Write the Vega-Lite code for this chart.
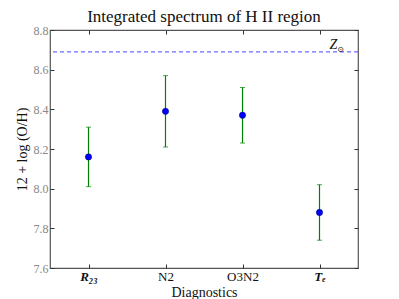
{
  "$schema": "https://vega.github.io/schema/vega-lite/v6.json",
  "width": 308,
  "height": 238,
  "autosize": "none",
  "padding": {"left": 50, "top": 30, "right": 41, "bottom": 31},
  "background": "white",
  "config": {
    "font": "Liberation Serif",
    "view": {"stroke": "#555555", "strokeWidth": 1.2},
    "axis": {"domain": false, "grid": false, "tickColor": "#333333", "labelFont": "Liberation Serif", "titleFont": "Liberation Serif", "titleFontWeight": "normal", "titleColor": "#111111"}
  },
  "title": {"text": "Integrated spectrum of H II region", "font": "Liberation Serif", "fontSize": 17, "fontWeight": "normal", "color": "#111111", "offset": -2},
  "datasets": {
    "points": [
      {"diag": "R23", "oh": 8.16, "lo": 8.01, "hi": 8.31},
      {"diag": "N2", "oh": 8.39, "lo": 8.21, "hi": 8.57},
      {"diag": "O3N2", "oh": 8.37, "lo": 8.23, "hi": 8.51},
      {"diag": "Te", "oh": 7.88, "lo": 7.74, "hi": 8.02}
    ],
    "solar": [{"diag": "Te", "oh": 8.69, "label": "Z", "sym": "⊙"}]
  },
  "resolve": {"axis": {"x": "independent", "y": "independent"}},
  "layer": [
    {
      "data": {"name": "solar"},
      "mark": {"type": "rule", "color": "#6b6bff", "strokeDash": [4, 3], "strokeWidth": 1.2},
      "encoding": {
        "y": {"field": "oh", "type": "quantitative", "scale": {"domain": [7.6, 8.8], "nice": false, "zero": false},
          "axis": {"orient": "right", "values": [7.6, 7.8, 8.0, 8.2, 8.4, 8.6, 8.8], "labels": false, "tickSize": -4, "title": null}}
      }
    },
    {
      "data": {"name": "points"},
      "mark": {"type": "rule", "color": "#008000", "strokeWidth": 1.2},
      "encoding": {
        "x": {"field": "diag", "type": "nominal", "sort": ["R23", "N2", "O3N2", "Te"], "scale": {"type": "point", "padding": 0.5},
          "axis": {"orient": "bottom", "title": "Diagnostics", "titleFontSize": 14, "titlePadding": 2, "labelAngle": 0, "labelFontSize": 13, "labelColor": "#111111", "tickSize": -4, "labelPadding": 6,
            "labelExpr": "datum.value == 'R23' ? 'R₂₃' : datum.value == 'Te' ? 'Tₑ' : datum.value",
            "labelFontStyle": {"condition": {"test": "datum.value == 'R23' || datum.value == 'Te'", "value": "italic"}, "value": "normal"},
            "labelFontWeight": {"condition": {"test": "datum.value == 'R23' || datum.value == 'Te'", "value": "bold"}, "value": "normal"}}},
        "y": {"field": "lo", "type": "quantitative", "scale": {"domain": [7.6, 8.8], "nice": false, "zero": false},
          "axis": {"orient": "left", "values": [7.6, 7.8, 8.0, 8.2, 8.4, 8.6, 8.8], "format": ".1f", "labelFontSize": 12, "labelColor": "#888888", "tickSize": -4, "labelPadding": 6, "title": "12 + log (O/H)", "titleFontSize": 14, "titlePadding": 4}},
        "y2": {"field": "hi"}
      }
    },
    {
      "data": {"name": "points"},
      "mark": {"type": "tick", "color": "#008000", "orient": "horizontal", "size": 5, "thickness": 1},
      "encoding": {
        "x": {"field": "diag", "type": "nominal", "sort": ["R23", "N2", "O3N2", "Te"],
          "axis": {"orient": "top", "labels": false, "tickSize": -4, "title": null}},
        "y": {"field": "lo", "type": "quantitative", "axis": null}
      }
    },
    {
      "data": {"name": "points"},
      "mark": {"type": "tick", "color": "#008000", "orient": "horizontal", "size": 5, "thickness": 1},
      "encoding": {
        "x": {"field": "diag", "type": "nominal", "sort": ["R23", "N2", "O3N2", "Te"], "axis": null},
        "y": {"field": "hi", "type": "quantitative", "axis": null}
      }
    },
    {
      "data": {"name": "points"},
      "mark": {"type": "point", "filled": true, "color": "#0000ff", "size": 40, "opacity": 1, "stroke": "#000066", "strokeWidth": 0.5},
      "encoding": {
        "x": {"field": "diag", "type": "nominal", "sort": ["R23", "N2", "O3N2", "Te"], "axis": null},
        "y": {"field": "oh", "type": "quantitative", "axis": null}
      }
    },
    {
      "data": {"name": "solar"},
      "mark": {"type": "text", "font": "Liberation Serif", "fontStyle": "italic", "fontSize": 14, "dx": 14, "dy": -7, "color": "#111111"},
      "encoding": {
        "x": {"field": "diag", "type": "nominal", "sort": ["R23", "N2", "O3N2", "Te"], "axis": null},
        "y": {"field": "oh", "type": "quantitative", "axis": null},
        "text": {"field": "label"}
      }
    },
    {
      "data": {"name": "solar"},
      "mark": {"type": "text", "font": "DejaVu Sans", "fontSize": 8, "dx": 21, "dy": -2, "color": "#111111"},
      "encoding": {
        "x": {"field": "diag", "type": "nominal", "sort": ["R23", "N2", "O3N2", "Te"], "axis": null},
        "y": {"field": "oh", "type": "quantitative", "axis": null},
        "text": {"field": "sym"}
      }
    }
  ]
}
